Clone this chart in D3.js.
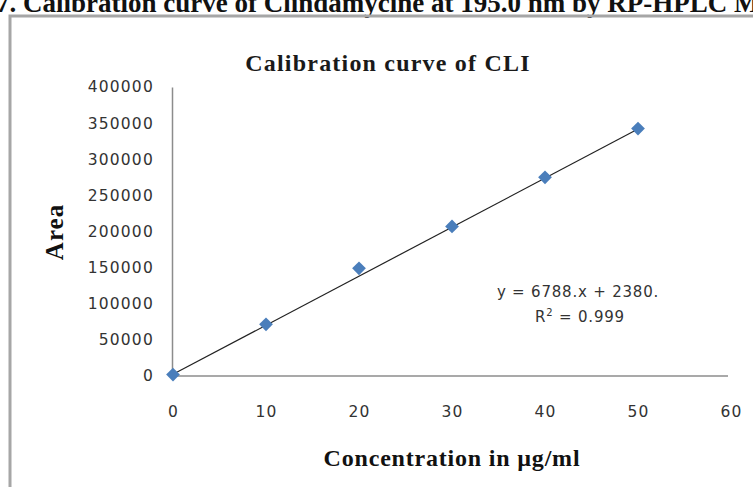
<!DOCTYPE html>
<html>
<head>
<meta charset="utf-8">
<script src="https://cdn.jsdelivr.net/npm/d3@7"></script>
<style>
  body { margin: 0; background: #fff; }
  svg { display: block; }
</style>
</head>
<body>
<svg id="chart" width="753" height="487"></svg>
<script>
// calibration data
const concentration = [0, 10, 20, 30, 40, 50];
const area = [2000, 71500, 149000, 207000, 275000, 342500];
const xTicks = [0, 10, 20, 30, 40, 50, 60];
const yTicks = [0, 50000, 100000, 150000, 200000, 250000, 300000, 350000, 400000];
const slope = 6788, intercept = 2380;

const svg = d3.select("#chart");
const serif = "Liberation Serif, Times New Roman, serif";
const tickFont = "DejaVu Sans, Verdana, sans-serif";

// figure caption, cut off at the top like the source scan
svg.append("text")
    .attr("x", -4).attr("y", 12)
    .attr("font-family", serif)
    .attr("font-weight", "bold").attr("font-size", 27)
    .attr("fill", "#111")
    .text("7. Calibration curve of Clindamycine at 195.0 nm by RP-HPLC Method");

// chart frame (left and top edges only visible)
svg.append("path")
    .attr("d", "M10,487 V16 H753")
    .attr("fill", "none").attr("stroke", "#a6a6a6").attr("stroke-width", 3);

const x = d3.scaleLinear().domain([0, 60]).range([173, 731]);
const y = d3.scaleLinear().domain([0, 400000]).range([376, 87]);

// y axis
const yAxis = svg.append("g").attr("transform", "translate(172,0)")
    .call(d3.axisLeft(y).tickValues(yTicks).tickSize(0).tickPadding(18).tickFormat(d3.format("d")));
yAxis.select(".domain").attr("stroke", "#8c8c8c").attr("stroke-width", 1.5);
yAxis.selectAll("text").attr("font-family", tickFont).attr("font-size", 15.5)
    .attr("letter-spacing", 1.2).attr("fill", "#333");

// x axis
const xAxis = svg.append("g").attr("transform", "translate(0,376)")
    .call(d3.axisBottom(x).tickValues(xTicks).tickSize(0).tickPadding(30));
xAxis.select(".domain").attr("stroke", "#8c8c8c").attr("stroke-width", 1.5)
    .attr("d", "M172,0 H728");
xAxis.selectAll("text").attr("font-family", tickFont).attr("font-size", 15.5)
    .attr("letter-spacing", 1.2).attr("fill", "#333");

// trend line
svg.append("line")
    .attr("x1", x(0)).attr("y1", y(intercept))
    .attr("x2", x(50)).attr("y2", y(slope * 50 + intercept))
    .attr("stroke", "#222").attr("stroke-width", 1.2);

// markers
svg.append("g").selectAll("path")
    .data(concentration.map((c, i) => [c, area[i]]))
    .enter().append("path")
    .attr("transform", d => `translate(${x(d[0])},${y(d[1])})`)
    .attr("d", d3.symbol(d3.symbolDiamond2, 120))
    .attr("fill", "#4a7ebb");

// titles
svg.append("text")
    .attr("x", 388).attr("y", 71).attr("text-anchor", "middle")
    .attr("font-family", serif).attr("font-weight", "bold").attr("font-size", 24)
    .attr("letter-spacing", 1.2)
    .attr("fill", "#1a1a1a").text("Calibration curve of CLI");

svg.append("text")
    .attr("transform", "translate(63,232) rotate(-90)").attr("text-anchor", "middle")
    .attr("font-family", serif).attr("font-weight", "bold").attr("font-size", 25)
    .attr("letter-spacing", 1)
    .attr("fill", "#111").text("Area");

svg.append("text")
    .attr("x", 452).attr("y", 466).attr("text-anchor", "middle")
    .attr("font-family", serif).attr("font-weight", "bold").attr("font-size", 24)
    .attr("letter-spacing", 0.8)
    .attr("fill", "#111").text("Concentration in µg/ml");

// equation
svg.append("text")
    .attr("x", 578).attr("y", 297).attr("text-anchor", "middle")
    .attr("font-family", tickFont).attr("font-size", 15).attr("letter-spacing", 0.8)
    .attr("fill", "#333")
    .text(`y = ${slope}.x + ${intercept}.`);
const r2 = svg.append("text")
    .attr("x", 580).attr("y", 322).attr("text-anchor", "middle")
    .attr("font-family", tickFont).attr("font-size", 15).attr("letter-spacing", 0.8)
    .attr("fill", "#333");
r2.append("tspan").text("R");
r2.append("tspan").attr("dy", -6).attr("font-size", 10).text("2");
r2.append("tspan").attr("dy", 6).text(" = 0.999");
</script>
</body>
</html>
